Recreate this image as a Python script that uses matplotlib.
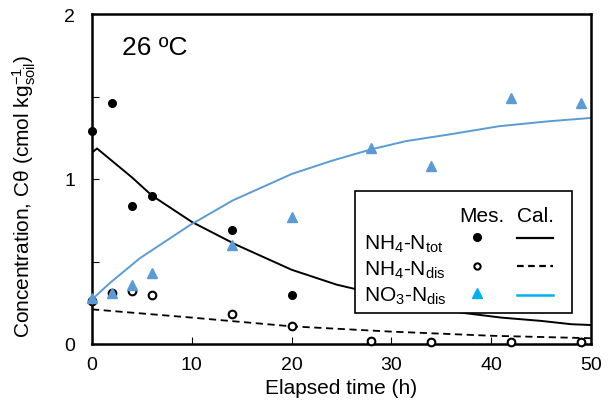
import matplotlib
matplotlib.use("Agg")
import matplotlib.pyplot as plt
from matplotlib.lines import Line2D
from matplotlib.patches import Rectangle
from matplotlib.ticker import MultipleLocator, FuncFormatter

plt.rcParams["font.family"] = ["Liberation Sans", "DejaVu Sans"]
plt.rcParams["mathtext.fontset"] = "custom"
plt.rcParams["mathtext.rm"] = "Liberation Sans"
plt.rcParams["mathtext.it"] = "Liberation Sans:italic"

# ── Measured data ─────────────────────────────────
t_mes     = [0, 2, 4, 6, 14, 20, 28, 34, 42, 49]
nh4_tot   = [1.29, 1.46, 0.835, 0.90, 0.69, 0.30, 0.02, 0.01, 0.01, 0.01]
nh4_dis   = [0.26, 0.31, 0.32, 0.30, 0.18, 0.107, 0.02, 0.01, 0.01, 0.01]
no3_dis   = [0.28, 0.31, 0.36, 0.43, 0.60, 0.77, 1.19, 1.08, 1.49, 1.46]

# ── Calculated curves ─────────────────────────────
t_cal_tot  = [0, 0.5, 2, 4, 6, 10, 14.5, 20, 24.5, 28, 32, 37, 41, 45, 48, 50]
nh4_tot_c  = [1.16, 1.185, 1.11, 1.01, 0.90, 0.74, 0.60, 0.45, 0.36, 0.31, 0.25, 0.19, 0.16, 0.14, 0.12, 0.115]
t_cal_dis  = [0, 10, 20, 30, 40, 50]
nh4_dis_c  = [0.21, 0.16, 0.107, 0.075, 0.05, 0.035]
t_cal_no3  = [0, 1.8, 4.8, 9.8, 14.1, 20, 24, 28, 31.5, 35.8, 40.8, 45.8, 50]
no3_dis_c  = [0.27, 0.37, 0.52, 0.72, 0.87, 1.03, 1.11, 1.18, 1.23, 1.27, 1.32, 1.35, 1.37]

BLUE     = "#5B9BD5"
BLUE_LEG = "#00B0F0"

W, H = 612, 406
fig = plt.figure(figsize=(W / 100, H / 100), dpi=100)
ax = fig.add_axes([92 / W, 1 - 345 / H, (591 - 92) / W, (345 - 15) / H])

ax.plot(t_cal_tot, nh4_tot_c, color="black", lw=1.4)
ax.plot(t_cal_dis, nh4_dis_c, color="black", lw=1.3, ls=(0, (4, 2.5)))
ax.plot(t_cal_no3, no3_dis_c, color=BLUE, lw=1.4)

ax.plot(t_mes, nh4_tot, "o", color="black", ms=5.5, clip_on=False, zorder=3)
ax.plot(t_mes, nh4_dis, "o", mfc="white", mec="black", mew=1.5, ms=5.5, clip_on=False, zorder=3)
ax.plot(t_mes, no3_dis, "^", color=BLUE, ms=7, clip_on=False, zorder=4)

ax.set_xlim(0, 50)
ax.set_ylim(0, 2)
ax.xaxis.set_major_locator(MultipleLocator(10))
ax.yaxis.set_major_locator(MultipleLocator(0.5))
ax.yaxis.set_major_formatter(FuncFormatter(lambda v, p: f"{v:.0f}" if abs(v - round(v)) < 1e-6 else ""))
ax.tick_params(direction="in", length=5, width=0.8, labelsize=14)
ax.tick_params(axis="x", pad=9)
ax.tick_params(axis="y", pad=12)
for s in ax.spines.values():
    s.set_linewidth(1.8)

ax.set_xlabel("Elapsed time (h)", fontsize=15, labelpad=3)
ax.set_ylabel(r"Concentration, Cθ (cmol kg$_{\mathregular{soil}}^{\mathregular{-1}}$)", fontsize=15)
ax.yaxis.set_label_coords(-0.108, 0.45)

ax.text(0.06, 0.90, "26 ºC", transform=ax.transAxes, fontsize=19, ha="left", va="center")

# ── Legend (drawn by hand, figure pixels) ─────────
def fx(px): return px / W
def fy(py): return 1 - py / H

fig.patches.append(Rectangle((fx(355), fy(314)), fx(572) - fx(355), fy(192) - fy(314),
                             transform=fig.transFigure, fc="white", ec="black", lw=1.2, zorder=5))
fig.text(fx(482), fy(222), "Mes.", fontsize=15, ha="center", va="baseline", zorder=6)
fig.text(fx(536), fy(222), "Cal.", fontsize=15, ha="center", va="baseline", zorder=6)

rows = [
    (r"NH$_{\mathregular{4}}$-N$_{\mathregular{tot}}$", 250),
    (r"NH$_{\mathregular{4}}$-N$_{\mathregular{dis}}$", 276),
    (r"NO$_{\mathregular{3}}$-N$_{\mathregular{dis}}$", 302),
]
for lab, py in rows:
    fig.text(fx(364), fy(py), lab, fontsize=15, ha="left", va="baseline", zorder=6)

fig.add_artist(Line2D([fx(477)], [fy(238)], marker="o", color="black", ms=5.5, transform=fig.transFigure, zorder=6))
fig.add_artist(Line2D([fx(477)], [fy(267)], marker="o", mfc="white", mec="black", mew=1.5, ms=4.5, transform=fig.transFigure, zorder=6))
fig.add_artist(Line2D([fx(477)], [fy(294)], marker="^", color=BLUE_LEG, ms=7.5, ls="none", transform=fig.transFigure, zorder=6))
fig.add_artist(Line2D([fx(517), fx(553)], [fy(239), fy(239)], color="black", lw=1.6, transform=fig.transFigure, zorder=6))
fig.add_artist(Line2D([fx(517), fx(553)], [fy(267), fy(267)], color="black", lw=1.6, ls=(0, (3, 2)), transform=fig.transFigure, zorder=6))
fig.add_artist(Line2D([fx(517), fx(553)], [fy(296), fy(296)], color=BLUE_LEG, lw=1.8, transform=fig.transFigure, zorder=6))

fig.savefig("out.png", dpi=100)
